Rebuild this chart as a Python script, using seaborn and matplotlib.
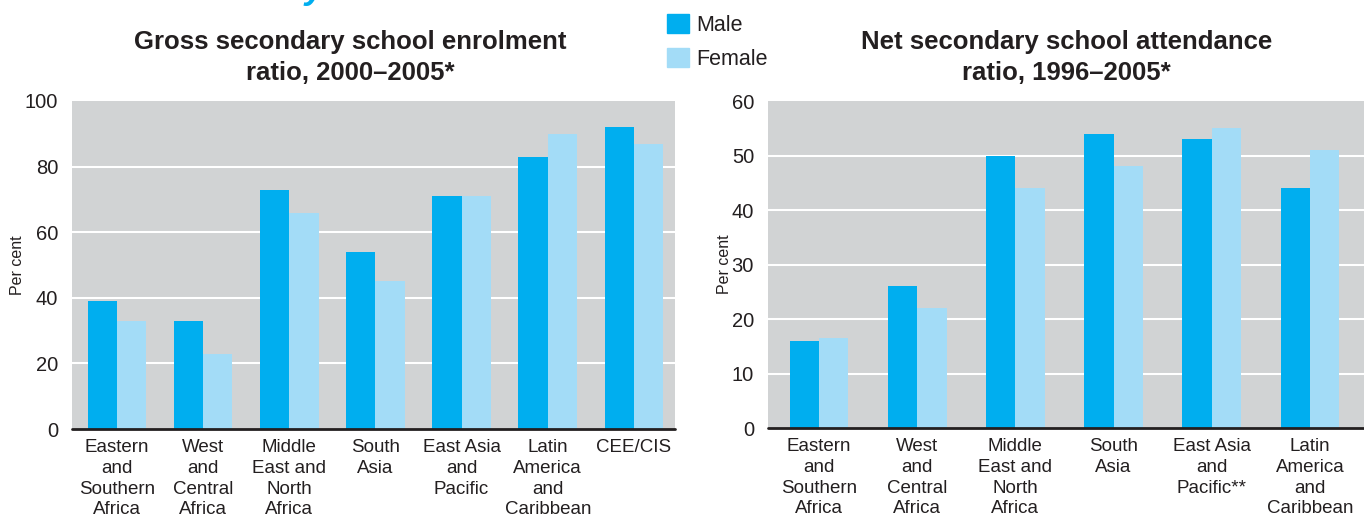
import pandas as pd
import numpy as np
import seaborn as sns
import matplotlib.pyplot as plt
from matplotlib.patches import Patch

# Data
gross_regions = ['Eastern\nand\nSouthern\nAfrica', 'West\nand\nCentral\nAfrica',
                 'Middle\nEast and\nNorth\nAfrica', 'South\nAsia',
                 'East Asia\nand\nPacific', 'Latin\nAmerica\nand\nCaribbean', 'CEE/CIS']
gross_male = [39, 33, 73, 54, 71, 83, 92]
gross_female = [33, 23, 66, 45, 71, 90, 87]

net_regions = ['Eastern\nand\nSouthern\nAfrica', 'West\nand\nCentral\nAfrica',
               'Middle\nEast and\nNorth\nAfrica', 'South\nAsia',
               'East Asia\nand\nPacific**', 'Latin\nAmerica\nand\nCaribbean']
net_male = [16, 26, 50, 54, 53, 44]
net_female = [16.6, 22, 44, 48, 55, 51]

gross_ticks = [0, 20, 40, 60, 80, 100]
net_ticks = [0, 10, 20, 30, 40, 50, 60]

male_col = '#00AEEF'
female_col = '#A3DCF7'
bg_col = '#D1D3D4'
text_col = '#231F20'

sns.set_style('white')
plt.rcParams['font.family'] = ['Liberation Sans Narrow', 'Liberation Sans', 'DejaVu Sans']


def long_df(regions, male, female):
    df = pd.DataFrame({'Region': regions * 2,
                       'Sex': ['Male'] * len(regions) + ['Female'] * len(regions),
                       'Value': male + female})
    return df


fig = plt.figure(figsize=(13.64, 5.19), dpi=100)
ax1 = fig.add_axes([0.0528, 0.1734, 0.4423, 0.632])
ax2 = fig.add_axes([0.563, 0.1753, 0.437, 0.630])


def draw(ax, regions, male, female, ticks, width, xlim):
    df = long_df(regions, male, female)
    ax.set_facecolor(bg_col)
    sns.barplot(data=df, x='Region', y='Value', hue='Sex', hue_order=['Male', 'Female'],
                palette=[male_col, female_col], width=width, gap=0, ax=ax,
                legend=False, saturation=1, errorbar=None, zorder=3,
                linewidth=0, edgecolor='none')
    ax.set_ylim(0, ticks[-1])
    ax.set_xlim(*xlim)
    ax.set_yticks(ticks)
    ax.set_yticklabels([str(t) for t in ticks], fontsize=14.5, color=text_col)
    for t in ticks[1:-1]:
        ax.axhline(t, color='white', lw=1.5, zorder=1)
    ax.axhline(0, color='#231F20', lw=2, zorder=4, clip_on=False)
    ax.tick_params(axis='both', length=0)
    ax.tick_params(axis='y', pad=10)
    ax.tick_params(axis='x', pad=7)
    ax.set_xticks(range(len(regions)))
    ax.set_xticklabels(regions, fontsize=13.5, color=text_col, linespacing=1.3, va='top')
    for s in ax.spines.values():
        s.set_visible(False)
    ax.set_xlabel('')
    ax.set_ylabel('Per cent', fontsize=11.5, color=text_col, labelpad=0)


draw(ax1, gross_regions, gross_male, gross_female, gross_ticks, 0.68, (-0.52, 6.48))
draw(ax2, net_regions, net_male, net_female, net_ticks, 0.6, (-0.52, 5.55))

fig.text(0.257, 0.889, 'Gross secondary school enrolment\nratio, 2000\u20132005*',
         ha='center', va='center', fontsize=18.5, fontweight='bold', color=text_col,
         linespacing=1.4)
fig.text(0.782, 0.889, 'Net secondary school attendance\nratio, 1996\u20132005*',
         ha='center', va='center', fontsize=18.5, fontweight='bold', color=text_col,
         linespacing=1.4)

# cut-off heading above the chart, only its descender is visible
fig.text(0.223, 1.003, 'y', ha='left', va='baseline', fontsize=26, fontweight='bold',
         fontstyle='italic', color=male_col)

handles = [Patch(color=male_col, label='Male'), Patch(color=female_col, label='Female')]
fig.legend(handles=handles, loc='upper left', bbox_to_anchor=(0.475, 1.01),
           frameon=False, fontsize=15.5, handlelength=1.0, handleheight=1.0,
           handletextpad=0.35, labelspacing=0.55, labelcolor=text_col,
           borderaxespad=0.5)

fig.savefig('out.png', dpi=100)
